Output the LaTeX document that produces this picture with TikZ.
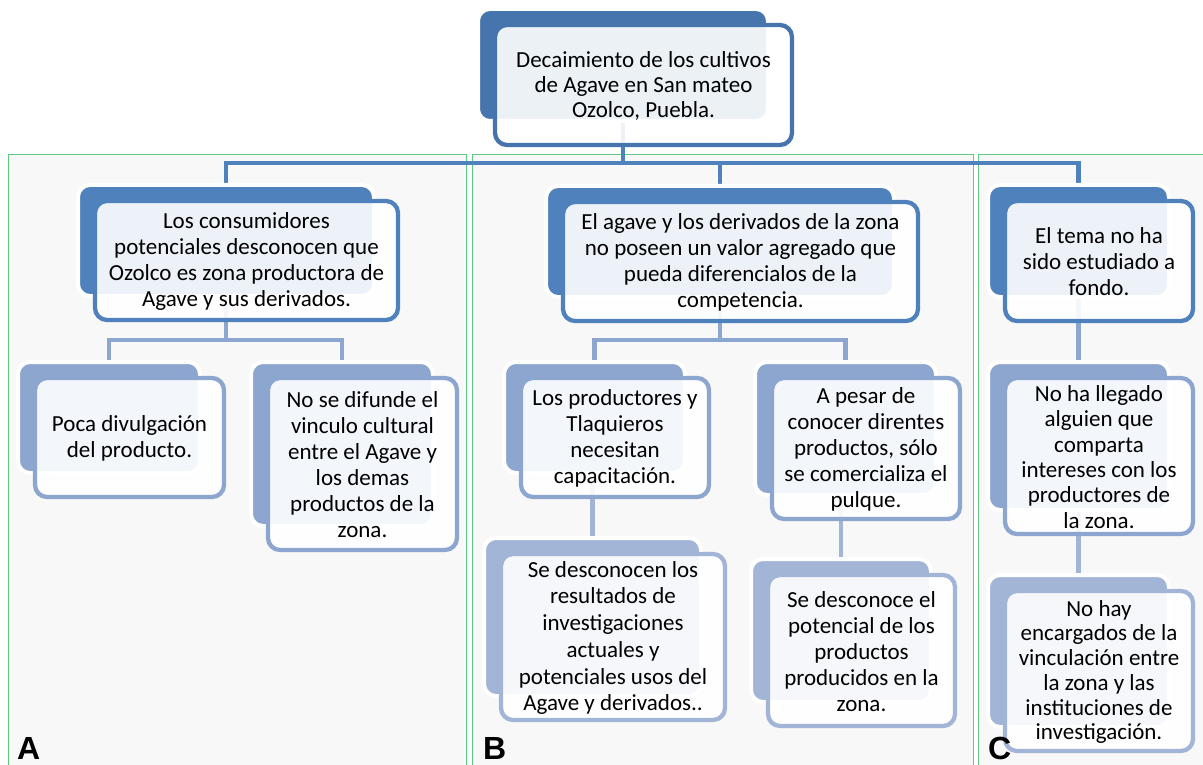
\documentclass[tikz,border=0pt]{standalone}
\usepackage{fontspec}
\setmainfont{Carlito}
\newfontfamily\labfont{Liberation Sans}
\usetikzlibrary{fit,calc}
\pgfdeclarelayer{panel}
\pgfdeclarelayer{conn}
\pgfsetlayers{panel,conn,main}
\definecolor{cOne}{HTML}{4674AD}
\definecolor{cTwo}{HTML}{4F81BD}
\definecolor{cThree}{HTML}{8CA6CF}
\definecolor{cFour}{HTML}{A2B5D6}
\definecolor{panelgreen}{HTML}{5CCB80}
\definecolor{panelfill}{HTML}{F8F8F8}
\tikzset{
  backbox/.style={draw=white, line width=4pt, rounded corners=12pt, inner sep=0pt},
  frontbox/.style={line width=4.3pt, rounded corners=12pt, fill=white, fill opacity=0.9, inner sep=0pt},
  boxtext/.style={inner sep=0pt, align=center, text=black, font=\fontsize{23}{26}\selectfont},
  panelbox/.style={draw=panelgreen, line width=1pt, fill=panelfill},
  conn/.style={line width=4.5pt},
  panellabel/.style={anchor=base west, inner sep=0pt, font=\labfont\bfseries\fontsize{32}{32}\selectfont},
}
\newcommand\pairbox[8][]{%
  \node[backbox, fill=#3, fit={(#4+2,#5+2) (#6-2,#7-2)}] (#2b) {};
  \node[frontbox, draw=#3, fit={(#4+19,#5+18) (#6+22,#7+22)}] (#2) {};
  \node[boxtext, #1] (#2t) at ($(#2.center)+(0,1)$) {#8};
}
\begin{document}
\begin{tikzpicture}[x=1pt,y=-1pt]
\begin{pgfonlayer}{panel}
  \fill[white] (0,0) rectangle (1203,765);
\end{pgfonlayer}
\useasboundingbox (0,0) rectangle (1203,765);

% boxes
\pairbox[font=\fontsize{23}{25}\selectfont]{top}{cOne}{476}{7}{770}{123}{Decaimiento de los cultivos\\de Agave en San mateo\\Ozolco, Puebla.}
\pairbox{na}{cTwo}{76}{183}{376}{298}{Los consumidores\\potenciales desconocen que\\Ozolco es zona productora de\\Agave y sus derivados.}
\pairbox{nb}{cTwo}{544}{184}{896}{299}{El agave y los derivados de la zona\\no poseen un valor agregado que\\pueda diferencialos de la\\competencia.}
\pairbox{nc}{cTwo}{986}{183}{1171}{299}{El tema no ha\\sido estudiado a\\fondo.}
\pairbox{naone}{cThree}{16}{360}{202}{475}{Poca divulgación\\del producto.}
\pairbox{natwo}{cThree}{249}{360}{435}{528}{No se difunde el\\vinculo cultural\\entre el Agave y\\los demas\\productos de la\\zona.}
\pairbox{nbone}{cThree}{502}{360}{687}{475}{Los productores y\\Tlaquieros\\necesitan\\capacitación.}
\pairbox{nbtwo}{cThree}{753}{360}{938}{497}{A pesar de\\conocer direntes\\productos, sólo\\se comercializa el\\pulque.}
\pairbox[font=\fontsize{23}{26.7}\selectfont]{nbthree}{cFour}{482}{536}{703}{698}{Se desconocen los\\resultados de\\investigaciones\\actuales y\\potenciales usos del\\Agave y derivados..}
\pairbox{nbfour}{cFour}{749}{557}{933}{704}{Se desconoce el\\potencial de los\\productos\\producidos en la\\zona.}
\pairbox[font=\fontsize{23}{25.3}\selectfont]{ncone}{cThree}{986}{360}{1171}{512}{No ha llegado\\alguien que\\comparta\\intereses con los\\productores de\\la zona.}
\pairbox[font=\fontsize{23}{24.7}\selectfont]{nctwo}{cFour}{986}{573}{1171}{729}{No hay\\encargados de la\\vinculación entre\\la zona y las\\instituciones de\\investigación.}

% panel labels
\node[panellabel] (labA) at (17,759) {A};
\node[panellabel] (labB) at (483,759) {B};
\node[panellabel] (labC) at (988,759) {C};

\begin{pgfonlayer}{panel}
  \draw[panelbox] (8,155) rectangle (466,775);
  \draw[panelbox] (472,155) rectangle (973,775);
  \draw[panelbox] (978,155) rectangle (1215,775);
\end{pgfonlayer}

\begin{pgfonlayer}{conn}
  \coordinate (barone) at (0,163);
  \coordinate (bartwo) at (0,340);
  \draw[conn, draw=cTwo] (topb.south) -- (topb.south |- barone);
  \draw[conn, draw=cTwo] (nab.north) -- (nab.north |- barone) -- (ncb.north |- barone) -- (ncb.north);
  \draw[conn, draw=cTwo] (nbb.north) -- (nbb.north |- barone);
  \draw[conn, draw=cThree] (nab.south) -- (nab.south |- bartwo);
  \draw[conn, draw=cThree] (naoneb.north) -- (naoneb.north |- bartwo) -- (natwob.north |- bartwo) -- (natwob.north);
  \draw[conn, draw=cThree] (nbb.south) -- (nbb.south |- bartwo);
  \draw[conn, draw=cThree] (nboneb.north) -- (nboneb.north |- bartwo) -- (nbtwob.north |- bartwo) -- (nbtwob.north);
  \draw[conn, draw=cThree] (ncb.south) -- (nconeb.north);
  \draw[conn, draw=cFour] (nbthreeb.north) -- (nbthreeb.north |- nboneb.south);
  \draw[conn, draw=cFour] (nbfourb.north) -- (nbfourb.north |- nbtwob.south);
  \draw[conn, draw=cFour] (nctwob.north) -- (nctwob.north |- nconeb.south);
\end{pgfonlayer}
\end{tikzpicture}
\end{document}
